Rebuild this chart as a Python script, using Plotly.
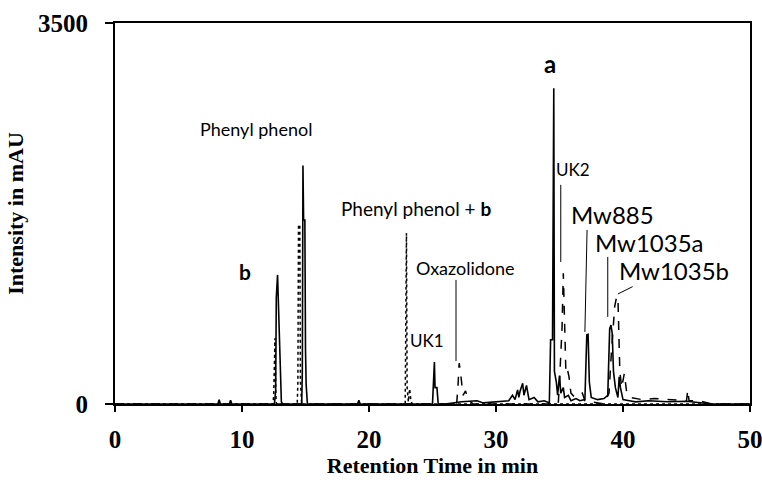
import plotly.graph_objects as go

# solid trace (retention time in min, intensity in mAU)
solid_t = [0, 8.1, 8.2, 8.3, 9.0, 9.1, 9.2,
           12.55, 12.65, 12.7, 12.8, 12.85, 12.9, 13.0, 13.05, 13.1, 13.2,
           14.7, 14.75, 14.8, 14.85, 14.95, 15.0, 15.05, 15.15,
           19.1, 19.2, 19.3,
           25.0, 25.1, 25.15, 25.2, 25.35, 25.45,
           26.0, 27.3, 28.5, 29.0, 30.0, 31.0, 31.3, 31.5, 31.7, 31.8, 31.9, 32.1, 32.2, 32.4, 32.6,
           33.0, 33.3, 33.8, 34.2, 34.3, 34.45, 34.5, 34.55, 34.6, 34.75, 34.85, 35.0, 35.1, 35.3,
           35.4, 35.7, 35.9, 36.3, 36.6, 37.0, 37.15, 37.25, 37.35, 37.5, 38.0, 38.5, 38.8,
           38.95, 39.05, 39.15, 39.25, 39.4, 39.6, 39.7, 39.8, 40.0, 40.5, 41.0, 42.0, 43.5,
           45.0, 46.0, 47.0, 50.0]
solid_y = [0, 0, 40, 0, 0, 35, 0,
           0, 120, 975, 1186, 980, 900, 250, 120, 20, 0,
           0, 300, 2190, 1690, 1690, 500, 180, 0,
           0, 35, 0,
           0, 300, 385, 150, 150, 0,
           0, 20, 30, 10, 20, 30, 80, 40, 130, 60, 120, 190, 80, 170, 40,
           60, 20, 30, 10, 590, 590, 2900, 2900, 300, 200, 80, 260, 100, 150,
           60, 80, 30, 50, 30, 40, 635, 640, 200, 60, 40, 50, 80,
           690, 725, 650, 300, 150, 60, 250, 150, 40, 30, 20, 30, 20,
           25, 15, 0, 0]

# dotted trace
dot_t = [0, 12.45, 12.5, 12.55, 12.6, 12.65, 12.7,
         14.35, 14.4, 14.45, 14.55, 14.6, 14.7,
         22.85, 22.9, 22.95, 23.0, 23.1, 23.2, 23.3, 23.4, 50]
dot_y = [0, 0, 100, 605, 605, 150, 0,
         0, 200, 1645, 1645, 200, 0,
         0, 1570, 1570, 150, 20, 140, 30, 0, 0]

# dashed trace
dash_t = [0, 26.9, 27.0, 27.1, 27.2, 27.3, 27.4, 27.6, 27.8, 28.2,
          34.9, 35.0, 35.2, 35.3, 35.4, 35.5, 35.6, 35.75, 35.9, 36.2, 36.8, 37.0, 38.5,
          38.9, 39.1, 39.35, 39.5, 39.6, 39.75, 39.9, 40.1, 40.3, 40.6, 41.0, 41.5, 42.5,
          43.5, 44.5, 45.0, 45.1, 45.2, 46.0, 47.0, 50]
dash_y = [0, 0, 150, 375, 300, 200, 80, 120, 40, 0,
          0, 200, 700, 1200, 700, 300, 330, 250, 100, 60, 100, 30, 0,
          100, 500, 900, 985, 980, 300, 150, 280, 100, 60, 50, 40, 50,
          40, 30, 30, 130, 30, 30, 0, 0]

# labels: text, x, y, font size, bold
labels = [
    ("Phenyl phenol", 11.1, 2527, 18, False),
    ("b", 10.24, 1213, 21, True),
    ("Phenyl phenol + <b>b</b>", 23.7, 1792, 19, False),
    ("Oxazolidone", 27.56, 1250, 18, False),
    ("UK1", 24.57, 579, 17, False),
    ("a", 34.25, 3125, 24, True),
    ("UK2", 36.06, 2150, 17, False),
    ("Mw885", 39.2, 1737, 24, False),
    ("Mw1035a", 42.05, 1480, 24, False),
    ("Mw1035b", 44.0, 1222, 24, False),
]

# leader lines: x0, y0, x1, y1
leaders = [
    (26.85, 1140, 26.85, 395),
    (35.1, 2013, 35.1, 1305),
    (37.17, 1599, 37.0, 662),
    (38.8, 1351, 38.8, 800),
    (40.76, 1078, 39.6, 1011),
]

fig = go.Figure()
fig.add_trace(go.Scatter(x=dot_t, y=dot_y, mode='lines',
                         line=dict(color='black', width=1.5, dash='dot')))
fig.add_trace(go.Scatter(x=dash_t, y=dash_y, mode='lines',
                         line=dict(color='black', width=1.5, dash='dash')))
fig.add_trace(go.Scatter(x=solid_t, y=solid_y, mode='lines',
                         line=dict(color='black', width=1.6)))

for txt, x, y, size, bold in labels:
    fig.add_annotation(x=x, y=y, text=f"<b>{txt}</b>" if bold else txt,
                       showarrow=False, font=dict(family="Lato", size=size, color='black'))

for x0, y0, x1, y1 in leaders:
    fig.add_shape(type='line', x0=x0, y0=y0, x1=x1, y1=y1,
                  line=dict(color='black', width=1))

serif = dict(family="Liberation Serif", size=25, color='black', weight='bold')
title_font = dict(family="Liberation Serif", size=22, color='black', weight='bold')
fig.update_layout(
    width=762, height=480,
    margin=dict(l=115, r=12, t=23, b=76),
    plot_bgcolor='white', paper_bgcolor='white',
    showlegend=False,
)
fig.update_xaxes(range=[0, 50], tickvals=[0, 10, 20, 30, 40, 50], automargin=False,
                 showgrid=False, zeroline=False, showline=True, linecolor='black',
                 linewidth=2, mirror=True, ticks='outside', ticklen=6, tickwidth=1.5,
                 tickcolor='black', tickfont=serif, ticklabelstandoff=6,
                 ticklabeloverflow='allow',
                 title=dict(text="Retention Time in min", standoff=4, font=title_font))
fig.update_yaxes(range=[0, 3500], tickvals=[0, 3500], automargin=False,
                 showgrid=False, zeroline=False, showline=True, linecolor='black',
                 linewidth=2, mirror=True, ticks='outside', ticklen=8, tickwidth=2,
                 tickcolor='black', tickfont=serif, ticklabelstandoff=12,
                 title=dict(text="Intensity in mAU", standoff=8, font=title_font))

fig.write_html("out.html", config={'displayModeBar': False},
               post_script="document.body.style.margin='0';")
